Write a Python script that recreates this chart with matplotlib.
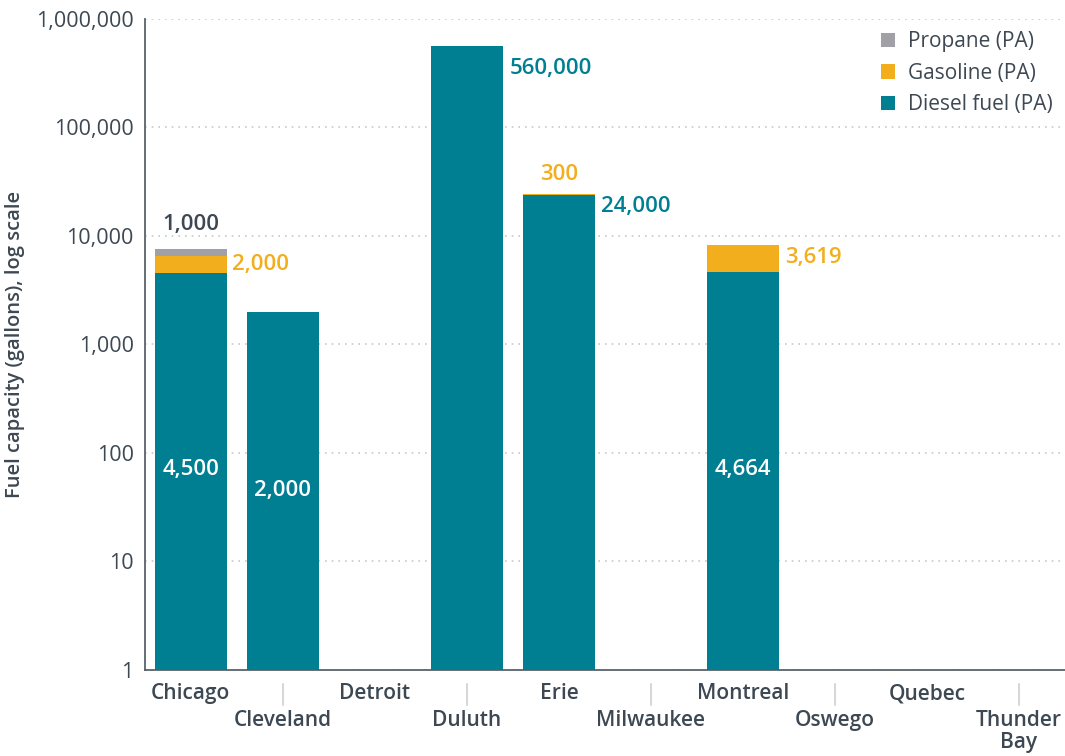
import numpy as np
import matplotlib.pyplot as plt
from matplotlib.ticker import FixedLocator, FuncFormatter

ports = ["Chicago", "Cleveland", "Detroit", "Duluth", "Erie",
         "Milwaukee", "Montreal", "Oswego", "Quebec", "Thunder\nBay"]
diesel = [4500, 2000, 0, 560000, 24000, 0, 4664, 0, 0, 0]
gasoline = [2000, 0, 0, 0, 300, 0, 3619, 0, 0, 0]
propane = [1000, 0, 0, 0, 0, 0, 0, 0, 0, 0]

TEAL = "#007f93"
ORANGE = "#f2ae1c"
GREY = "#a0a0a6"
INK = "#3d4853"

plt.rcParams['font.family'] = ['Open Sans', 'DejaVu Sans']

fig = plt.figure(figsize=(10.65, 7.56), dpi=100)
ax = fig.add_axes([0.136, 0.114, 0.864, 0.861])

x = np.arange(len(ports))
w = 0.78
d = np.array(diesel, dtype=float)
g = np.array(gasoline, dtype=float)
p = np.array(propane, dtype=float)

ax.bar(x, np.where(d > 0, d, np.nan), w, bottom=0, color=TEAL, label="Diesel fuel (PA)", zorder=3)
ax.bar(x, np.where(g > 0, g, np.nan), w, bottom=d, color=ORANGE, label="Gasoline (PA)", zorder=3)
ax.bar(x, np.where(p > 0, p, np.nan), w, bottom=d + g, color=GREY, label="Propane (PA)", zorder=3)

ax.set_yscale("log")
ax.set_ylim(1, 1e6)
ax.set_xlim(-0.5, len(ports) - 0.5)
ax.yaxis.set_major_locator(FixedLocator([10**k for k in range(7)]))
ax.yaxis.set_minor_locator(FixedLocator([]))
ax.yaxis.set_major_formatter(FuncFormatter(lambda v, _: f"{v:,.0f}"))
ax.tick_params(axis="y", length=0, pad=8, labelsize=15.5, labelcolor=INK)
ax.grid(axis="y", color="#c8c8c8", linestyle=(0, (1, 3)), linewidth=1.2, zorder=0)

for s in ["top", "right"]:
    ax.spines[s].set_visible(False)
for s in ["left", "bottom"]:
    ax.spines[s].set_color("#5a636b")
    ax.spines[s].set_linewidth(1.3)

# staggered category labels, with short separators above the lower row
ax.set_xticks(x)
ax.set_xticklabels([])
ax.tick_params(axis="x", length=0)
for i, name in enumerate(ports):
    if i % 2 == 0:
        ax.text(i, -0.021, name, transform=ax.get_xaxis_transform(), ha="center", va="top",
                fontsize=15, fontweight="semibold", color=INK)
    else:
        ax.text(i, -0.062, name, transform=ax.get_xaxis_transform(), ha="center", va="top",
                fontsize=15, fontweight="semibold", color=INK, linespacing=1.05)
        ax.plot([i, i], [-0.022, -0.054], transform=ax.get_xaxis_transform(),
                color="#d0d0d0", linewidth=1.2, clip_on=False)

ax.set_ylabel("Fuel capacity (gallons), log scale", fontsize=14.5, fontweight="semibold",
              color=INK, labelpad=8)

# value labels
lab = dict(fontsize=16, fontweight="semibold")
top = d + g + p
ax.text(0, top[0] * 1.35, f"{propane[0]:,}", ha="center", va="bottom", color=INK, **lab)
ax.text(0.45, d[0] + g[0] * 0.5, f"{gasoline[0]:,}", ha="left", va="center", color=ORANGE, **lab)
ax.text(0, 70, f"{diesel[0]:,}", ha="center", va="center", color="white", **lab)
ax.text(1, 45, f"{diesel[1]:,}", ha="center", va="center", color="white", **lab)
ax.text(3.46, d[3] * 0.62, f"{diesel[3]:,}", ha="left", va="center", color=TEAL, **lab)
ax.text(4, top[4] * 1.2, f"{gasoline[4]:,}", ha="center", va="bottom", color=ORANGE, **lab)
ax.text(4.46, d[4] * 0.78, f"{diesel[4]:,}", ha="left", va="center", color=TEAL, **lab)
ax.text(6.46, top[6] * 0.76, f"{gasoline[6]:,}", ha="left", va="center", color=ORANGE, **lab)
ax.text(6, 70, f"{diesel[6]:,}", ha="center", va="center", color="white", **lab)

h, l = ax.get_legend_handles_labels()
leg = ax.legend(h[::-1], l[::-1], loc="upper right", bbox_to_anchor=(1.0, 1.0), frameon=False,
                fontsize=15, handlelength=0.7, handleheight=0.7, handletextpad=0.6,
                labelspacing=0.5, borderaxespad=0.2)
for t in leg.get_texts():
    t.set_color(INK)

fig.savefig("out.png", dpi=100)
